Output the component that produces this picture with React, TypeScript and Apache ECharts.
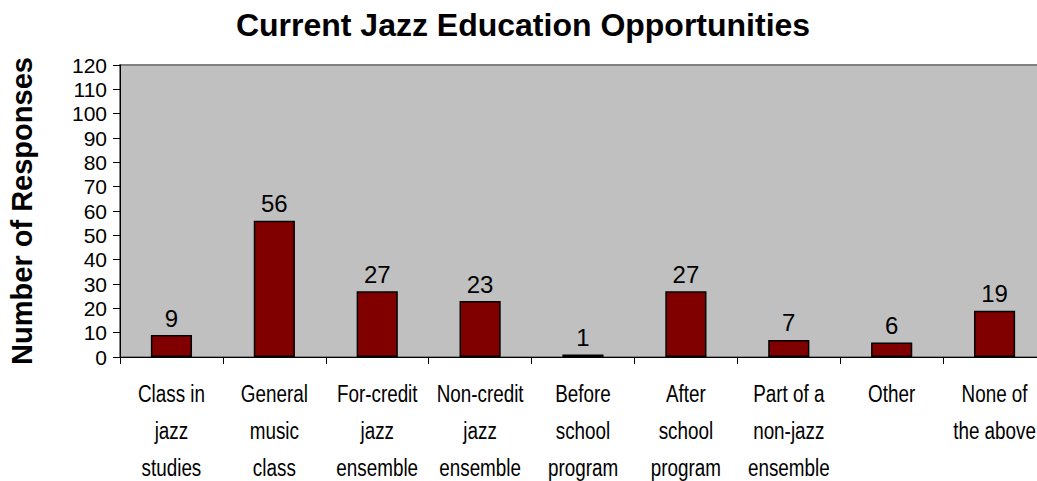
import React, { useEffect, useRef } from "react";
import * as echarts from "echarts";

const categories = [
  "Class in\njazz\nstudies",
  "General\nmusic\nclass",
  "For-credit\njazz\nensemble",
  "Non-credit\njazz\nensemble",
  "Before\nschool\nprogram",
  "After\nschool\nprogram",
  "Part of a\nnon-jazz\nensemble",
  "Other",
  "None of\nthe above",
];
const responses = [9, 56, 27, 23, 1, 27, 7, 6, 19];
const titleText = "Current Jazz Education Opportunities";
const yAxisTitle = "Number of Responses";

export default function App() {
  const ref = useRef<HTMLDivElement>(null);
  useEffect(() => {
    if (!ref.current) return;
    const chart = echarts.init(ref.current, undefined, { renderer: "svg" });
    chart.setOption({
      animation: false,
      backgroundColor: "#ffffff",
      title: {
        text: titleText,
        left: 518,
        textAlign: "center",
        top: 4,
        textStyle: {
          fontFamily: "Liberation Sans, Arial, sans-serif",
          fontWeight: "bold",
          fontSize: 32,
          color: "#000",
        },
      },
      grid: {
        left: 120,
        top: 65,
        width: 926,
        height: 292,
        outerBoundsMode: "none",
        containLabel: false,
        show: true,
        backgroundColor: "#C0C0C0",
        borderColor: "#808080",
        borderWidth: 2,
      },
      xAxis: {
        type: "category",
        data: categories,
        axisLine: { show: true, lineStyle: { color: "#000", width: 1 } },
        axisTick: { show: true, length: 7, lineStyle: { color: "#000" } },
        axisLabel: { show: false },
      },
      yAxis: {
        type: "value",
        min: 0,
        max: 120,
        interval: 10,
        name: yAxisTitle,
        nameLocation: "middle",
        nameGap: 84,
        nameTextStyle: {
          fontFamily: "Liberation Sans, Arial, sans-serif",
          fontWeight: "bold",
          fontSize: 29,
          color: "#000",
        },
        axisLine: { show: true, lineStyle: { color: "#000", width: 1 } },
        axisTick: { show: true, length: 7, lineStyle: { color: "#000" } },
        axisLabel: {
          margin: 13,
          fontFamily: "Liberation Sans, Arial, sans-serif",
          fontSize: 21,
          color: "#000",
        },
        splitLine: { show: false },
      },
      series: [
        {
          type: "bar",
          data: responses,
          barWidth: "40%",
          itemStyle: { color: "#800000", borderColor: "#000", borderWidth: 1.5 },
          label: {
            show: true,
            position: "top",
            distance: 5,
            fontFamily: "Liberation Sans, Arial, sans-serif",
            fontSize: 24,
            color: "#000",
          },
        },
      ],
    });
    // Category labels drawn in a condensed style, positioned by the category axis scale
    const baseY = chart.convertToPixel({ yAxisIndex: 0 }, 0) as number;
    const labels = categories.map((c) => {
      const x = chart.convertToPixel({ xAxisIndex: 0 }, c) as number;
      return {
        type: "text",
        x,
        y: baseY + 18,
        scaleX: 0.82,
        silent: true,
        style: {
          text: c,
          fontFamily: "Liberation Sans, Arial, sans-serif",
          fontSize: 23,
          lineHeight: 37,
          fill: "#000",
          align: "center",
          verticalAlign: "top",
        },
      };
    });
    chart.setOption({ graphic: labels });
    return () => chart.dispose();
  }, []);
  return (
    <div
      style={{
        position: "fixed",
        left: 0,
        top: 0,
        width: 1037,
        height: 481,
        overflow: "hidden",
        background: "#fff",
      }}
    >
      <div ref={ref} style={{ width: 1070, height: 481 }} />
    </div>
  );
}
